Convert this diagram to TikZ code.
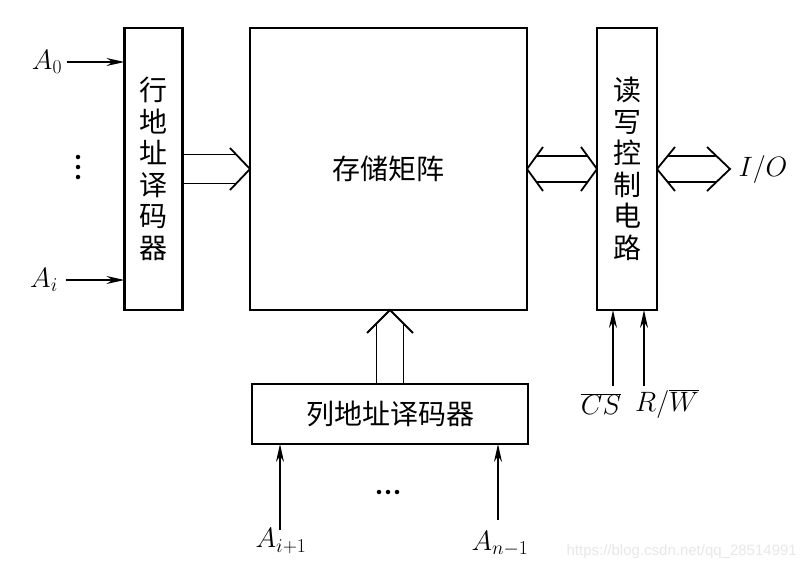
\RequirePackage{fix-cm}
\documentclass[tikz,border=0pt]{standalone}
\usepackage{fontspec}
\newfontfamily\cjk{Noto Sans CJK SC}
\newfontfamily\wmfont{Liberation Sans}
\usetikzlibrary{calc,arrows.meta}
\begin{document}
\begin{tikzpicture}[x=1pt,y=-1pt,
 box/.style={draw,line width=2.8pt,rectangle,outer sep=0pt,inner sep=0pt},
 bus/.style={line width=1.8pt,line join=miter},
 sarr/.style={line width=1.6pt,-{Stealth[length=18pt,width=8pt,inset=6pt]}},
 zh/.style={font=\cjk\fontsize{28}{31.5}\selectfont,align=center},
 lab/.style={font=\fontsize{28}{32}\selectfont,inner sep=0pt},
 dot/.style={circle,fill,inner sep=0pt,minimum size=4.5pt}]
\useasboundingbox (0,0) rectangle (802,570);
\fill[white] (0,0) rectangle (802,570);

% boxes
\node[box,zh,minimum width=58,minimum height=282] (row) at (153.5,169) {行\\地\\址\\译\\码\\器};
\node[box,zh,minimum width=277,minimum height=282] (mat) at (388.5,169) {存储矩阵};
\node[box,zh,minimum width=60,minimum height=282] (rw) at (627,169) {读\\写\\控\\制\\电\\路};
\node[box,zh,minimum width=276,minimum height=60] (col) at (390,414) {列地址译码器};

% row decoder -> matrix (wide arrow)
\draw[bus] ($(row.east)+(0,-14.5)$) -- ($(mat.west)+(-13.8,-14.5)$);
\draw[bus] ($(row.east)+(0,14.5)$) -- ($(mat.west)+(-13.8,14.5)$);
\draw[bus] ($(mat.west)+(-20,-21)$) -- (mat.west) -- ($(mat.west)+(-20,21)$);

% matrix <-> read/write control
\draw[bus] ($(mat.east)+(9.5,-13)$) -- ($(rw.west)+(-9.5,-13)$);
\draw[bus] ($(mat.east)+(9.5,13)$) -- ($(rw.west)+(-9.5,13)$);
\draw[bus] ($(mat.east)+(16,-22)$) -- (mat.east) -- ($(mat.east)+(16,22)$);
\draw[bus] ($(rw.west)+(-16,-22)$) -- (rw.west) -- ($(rw.west)+(-16,22)$);

% read/write control <-> I/O
\node[lab] (io) at (763,169) {$I/O$};
\coordinate (iotip) at (730,169);
\draw[bus] ($(rw.east)+(10.6,-13)$) -- ($(iotip)+(-13.6,-13)$);
\draw[bus] ($(rw.east)+(10.6,13)$) -- ($(iotip)+(-13.6,13)$);
\draw[bus] ($(rw.east)+(18,-22)$) -- (rw.east) -- ($(rw.east)+(18,22)$);
\draw[bus] ($(iotip)+(-23,-22)$) -- (iotip) -- ($(iotip)+(-23,22)$);

% column decoder -> matrix (wide arrow)
\coordinate (ctip) at (col.north |- mat.south);
\draw[bus] ($(col.north)+(-13.5,0)$) -- ($(ctip)+(-13.5,13.5)$);
\draw[bus] ($(col.north)+(13.5,0)$) -- ($(ctip)+(13.5,13.5)$);
\draw[bus] ($(ctip)+(-23,23)$) -- (ctip) -- ($(ctip)+(23,23)$);

% row address inputs
\node[lab] (A0) at (47,62) {$A_0$};
\node[lab] (Ai) at (44,280) {$A_i$};
\node[dot] (v1) at (78,157) {};
\node[dot] (v2) at (78,167) {};
\node[dot] (v3) at (78,177) {};
\draw[sarr] ($(A0.east)+(5,0)$) -- (A0.east -| row.west);
\draw[sarr] ($(Ai.east)+(8,0)$) -- (Ai.east -| row.west);

% control inputs
\node[lab] (cs) at (601,404) {$\overline{CS}$};
\node[lab] (rwl) at (667,404) {$R/\overline{W}$};
\coordinate (csin) at (613,386);
\coordinate (rwin) at (644,386);
\draw[sarr] (csin) -- (csin |- rw.south);
\draw[sarr] (rwin) -- (rwin |- rw.south);

% column address inputs
\node[lab] (Ai1) at (281,541) {$A_{i+1}$};
\node[lab] (An1) at (500,544) {$A_{n-1}$};
\node[dot] (h1) at (379,492) {};
\node[dot] (h2) at (388,492) {};
\node[dot] (h3) at (397,492) {};
\coordinate (c1) at (280,530);
\coordinate (c2) at (498,520);
\draw[sarr] (c1) -- (c1 |- col.south);
\draw[sarr] (c2) -- (c2 |- col.south);

% watermark
\node[font=\wmfont\fontsize{15}{18}\selectfont,text=black!9,anchor=east,inner sep=0pt] (wm) at (797,552) {https://blog.csdn.net/qq\_28514991};
\end{tikzpicture}
\end{document}
